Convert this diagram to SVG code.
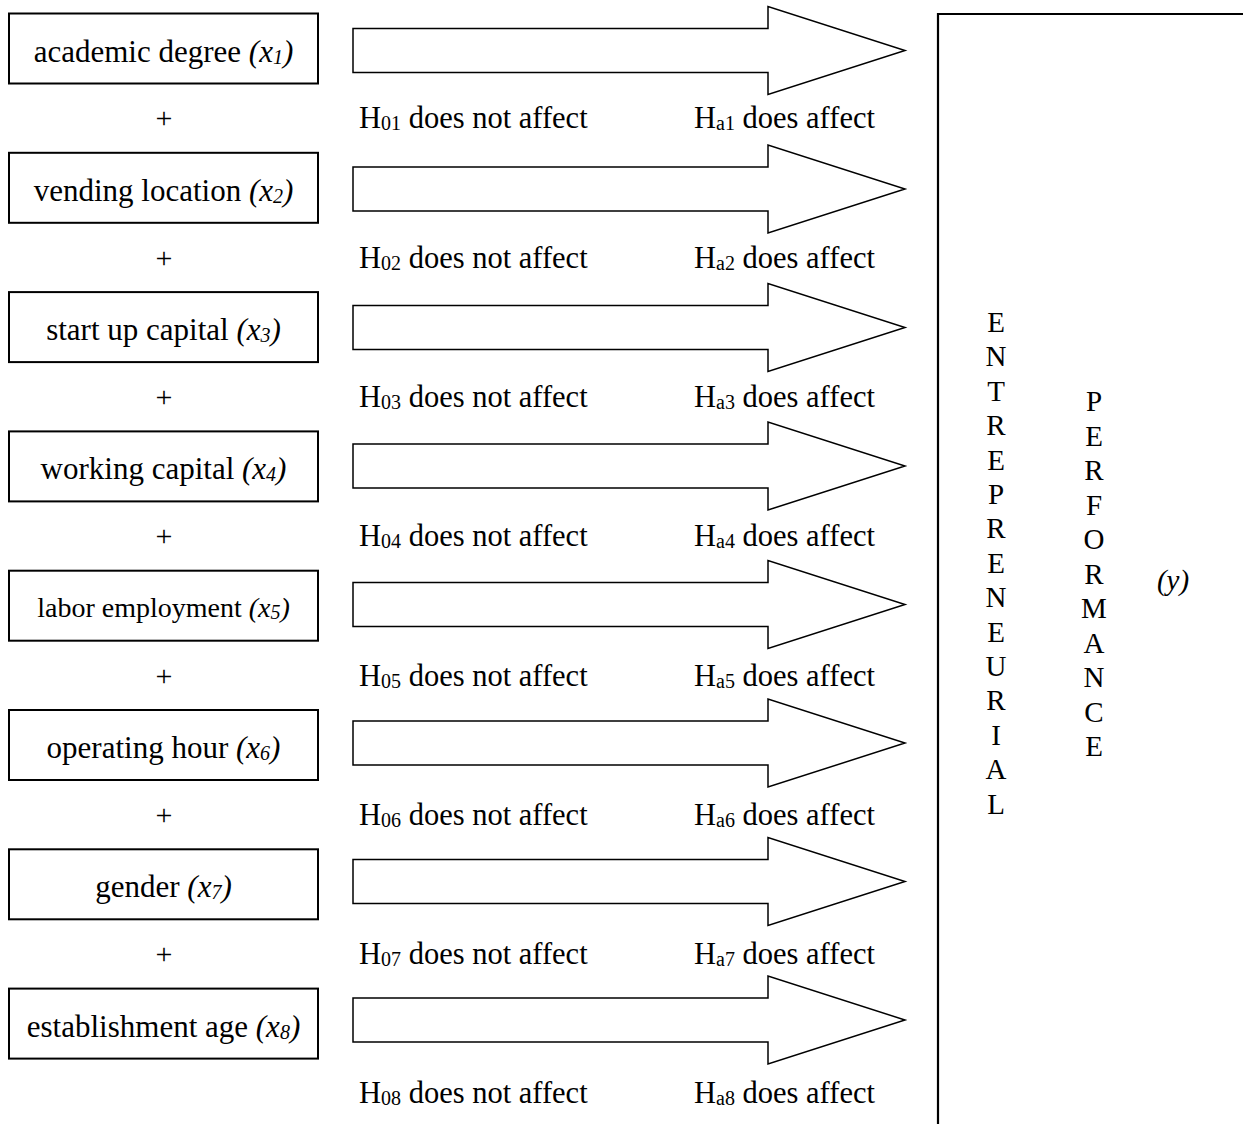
<svg xmlns="http://www.w3.org/2000/svg" width="1243" height="1124" viewBox="0 0 1243 1124">
<style>
text{font-family:"Liberation Serif","DejaVu Serif",serif;fill:#000}
.bx{fill:#fff;stroke:#000;stroke-width:2}
.ar{fill:#fff;stroke:#000;stroke-width:1.5;stroke-linejoin:miter}
.lbl{font-size:31px;text-anchor:middle}
.sm{font-size:28px;text-anchor:middle}
.h{font-size:30.5px}
.pl{font-size:30px;text-anchor:middle}
.v{font-size:29px;text-anchor:middle}
.it{font-style:italic}
.sub{font-size:20px}
</style>
<rect width="1243" height="1124" fill="#fff"/>

<g id="connectors">
<path class="ar" d="M353 28.5H768V6.5L905 50.5L768 94.5V72.5H353Z"/>
<path class="ar" d="M353 167H768V145L905 189L768 233V211H353Z"/>
<path class="ar" d="M353 305.5H768V283.5L905 327.5L768 371.5V349.5H353Z"/>
<path class="ar" d="M353 444H768V422L905 466L768 510V488H353Z"/>
<path class="ar" d="M353 582.5H768V560.5L905 604.5L768 648.5V626.5H353Z"/>
<path class="ar" d="M353 721H768V699L905 743L768 787V765H353Z"/>
<path class="ar" d="M353 859.5H768V837.5L905 881.5L768 925.5V903.5H353Z"/>
<path class="ar" d="M353 998H768V976L905 1020L768 1064V1042H353Z"/>
</g>

<g id="node-x1">
<rect class="bx" x="9" y="13.5" width="309" height="70"/>
<text class="lbl" x="163.5" y="61.5">academic degree <tspan class="it">(x<tspan class="sub" dy="2">1</tspan><tspan dy="-2">)</tspan></tspan></text>
</g>
<g id="node-x2">
<rect class="bx" x="9" y="152.8" width="309" height="70"/>
<text class="lbl" x="163.5" y="200.8">vending location <tspan class="it">(x<tspan class="sub" dy="2">2</tspan><tspan dy="-2">)</tspan></tspan></text>
</g>
<g id="node-x3">
<rect class="bx" x="9" y="292.1" width="309" height="70"/>
<text class="lbl" x="163.5" y="340.1">start up capital <tspan class="it">(x<tspan class="sub" dy="2">3</tspan><tspan dy="-2">)</tspan></tspan></text>
</g>
<g id="node-x4">
<rect class="bx" x="9" y="431.4" width="309" height="70"/>
<text class="lbl" x="163.5" y="479.4">working capital <tspan class="it">(x<tspan class="sub" dy="2">4</tspan><tspan dy="-2">)</tspan></tspan></text>
</g>
<g id="node-x5">
<rect class="bx" x="9" y="570.7" width="309" height="70"/>
<text class="sm" x="163.5" y="616.5">labor employment <tspan class="it">(x<tspan class="sub" dy="2">5</tspan><tspan dy="-2">)</tspan></tspan></text>
</g>
<g id="node-x6">
<rect class="bx" x="9" y="710" width="309" height="70"/>
<text class="lbl" x="163.5" y="758">operating hour <tspan class="it">(x<tspan class="sub" dy="2">6</tspan><tspan dy="-2">)</tspan></tspan></text>
</g>
<g id="node-x7">
<rect class="bx" x="9" y="849.3" width="309" height="70"/>
<text class="lbl" x="163.5" y="897.3">gender <tspan class="it">(x<tspan class="sub" dy="2">7</tspan><tspan dy="-2">)</tspan></tspan></text>
</g>
<g id="node-x8">
<rect class="bx" x="9" y="988.6" width="309" height="70"/>
<text class="lbl" x="163.5" y="1036.6">establishment age <tspan class="it">(x<tspan class="sub" dy="2">8</tspan><tspan dy="-2">)</tspan></tspan></text>
</g>

<g id="plus-signs">
<text class="pl" x="164" y="128.3">+</text>
<text class="pl" x="164" y="267.6">+</text>
<text class="pl" x="164" y="406.9">+</text>
<text class="pl" x="164" y="546.2">+</text>
<text class="pl" x="164" y="685.5">+</text>
<text class="pl" x="164" y="824.8">+</text>
<text class="pl" x="164" y="964.1">+</text>
</g>

<g id="hypothesis-labels">
<text class="h" x="359" y="128.3">H<tspan class="sub" dy="2">01</tspan><tspan dy="-2"> does not affect</tspan></text>
<text class="h" x="694" y="128.3">H<tspan class="sub" dy="2">a1</tspan><tspan dy="-2"> does affect</tspan></text>
<text class="h" x="359" y="267.6">H<tspan class="sub" dy="2">02</tspan><tspan dy="-2"> does not affect</tspan></text>
<text class="h" x="694" y="267.6">H<tspan class="sub" dy="2">a2</tspan><tspan dy="-2"> does affect</tspan></text>
<text class="h" x="359" y="406.9">H<tspan class="sub" dy="2">03</tspan><tspan dy="-2"> does not affect</tspan></text>
<text class="h" x="694" y="406.9">H<tspan class="sub" dy="2">a3</tspan><tspan dy="-2"> does affect</tspan></text>
<text class="h" x="359" y="546.2">H<tspan class="sub" dy="2">04</tspan><tspan dy="-2"> does not affect</tspan></text>
<text class="h" x="694" y="546.2">H<tspan class="sub" dy="2">a4</tspan><tspan dy="-2"> does affect</tspan></text>
<text class="h" x="359" y="685.5">H<tspan class="sub" dy="2">05</tspan><tspan dy="-2"> does not affect</tspan></text>
<text class="h" x="694" y="685.5">H<tspan class="sub" dy="2">a5</tspan><tspan dy="-2"> does affect</tspan></text>
<text class="h" x="359" y="824.8">H<tspan class="sub" dy="2">06</tspan><tspan dy="-2"> does not affect</tspan></text>
<text class="h" x="694" y="824.8">H<tspan class="sub" dy="2">a6</tspan><tspan dy="-2"> does affect</tspan></text>
<text class="h" x="359" y="964.1">H<tspan class="sub" dy="2">07</tspan><tspan dy="-2"> does not affect</tspan></text>
<text class="h" x="694" y="964.1">H<tspan class="sub" dy="2">a7</tspan><tspan dy="-2"> does affect</tspan></text>
<text class="h" x="359" y="1102.5">H<tspan class="sub" dy="2">08</tspan><tspan dy="-2"> does not affect</tspan></text>
<text class="h" x="694" y="1102.5">H<tspan class="sub" dy="2">a8</tspan><tspan dy="-2"> does affect</tspan></text>
</g>

<g id="node-y">
<path d="M938 1124V14H1243" fill="none" stroke="#000" stroke-width="2.2"/>
<text class="v" x="996">
<tspan x="996" y="332">E</tspan><tspan x="996" y="366.4">N</tspan><tspan x="996" y="400.8">T</tspan><tspan x="996" y="435.2">R</tspan><tspan x="996" y="469.6">E</tspan><tspan x="996" y="504">P</tspan><tspan x="996" y="538.4">R</tspan><tspan x="996" y="572.8">E</tspan><tspan x="996" y="607.2">N</tspan><tspan x="996" y="641.6">E</tspan><tspan x="996" y="676">U</tspan><tspan x="996" y="710.4">R</tspan><tspan x="996" y="744.8">I</tspan><tspan x="996" y="779.2">A</tspan><tspan x="996" y="813.6">L</tspan>
</text>
<text class="v" x="1094">
<tspan x="1094" y="411">P</tspan><tspan x="1094" y="445.5">E</tspan><tspan x="1094" y="480">R</tspan><tspan x="1094" y="514.5">F</tspan><tspan x="1094" y="549">O</tspan><tspan x="1094" y="583.5">R</tspan><tspan x="1094" y="618">M</tspan><tspan x="1094" y="652.5">A</tspan><tspan x="1094" y="687">N</tspan><tspan x="1094" y="721.5">C</tspan><tspan x="1094" y="756">E</tspan>
</text>
<text class="v it" x="1173" y="590">(y)</text>
</g>
</svg>
